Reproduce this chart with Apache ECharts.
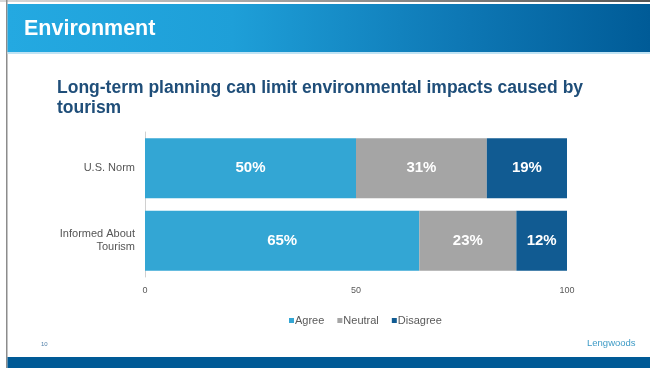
<!DOCTYPE html>
<html>
<head>
<meta charset="utf-8">
<style>
  html, body { margin: 0; padding: 0; background: #ffffff; }
  #chart { width: 650px; height: 368px; }
</style>
<script src="https://cdn.jsdelivr.net/npm/echarts@6/dist/echarts.min.js"></script>
</head>
<body>
<div id="chart"></div>
<script>
// Survey groups, top to bottom
const categories = ['U.S. Norm', 'Informed About\nTourism'];
// Share of respondents (%) per answer
const agree = [50, 65];
const neutral = [31, 23];
const disagree = [19, 12];
const xTicks = [0, 50, 100];

const chart = echarts.init(document.getElementById('chart'), null, { renderer: 'canvas' });

const labelStyle = {
  show: true,
  position: 'inside',
  color: '#ffffff',
  fontFamily: 'Liberation Sans, Arial, sans-serif',
  fontWeight: 'bold',
  fontSize: 15,
  formatter: p => p.value + '%'
};

function barSeries(name, data, color) {
  return {
    name: name,
    type: 'bar',
    stack: 'total',
    data: data,
    barCategoryGap: '17%',
    itemStyle: { color: color },
    label: labelStyle,
    emphasis: { disabled: true }
  };
}

chart.setOption({
  animation: false,
  backgroundColor: '#ffffff',
  textStyle: { fontFamily: 'Liberation Sans, Arial, sans-serif' },
  graphic: [
    // slide frame
    {
      type: 'rect', shape: { x: 0, y: 0, width: 650, height: 2 }, silent: true,
      style: {
        fill: new echarts.graphic.LinearGradient(0, 0, 1, 0, [
          { offset: 0, color: '#d8d8d8' },
          { offset: 1, color: '#555555' }
        ])
      }
    },
    { type: 'rect', shape: { x: 6, y: 0, width: 1.5, height: 368 }, style: { fill: '#8c8c8c' }, silent: true },
    // header band
    {
      type: 'rect', shape: { x: 7.5, y: 4, width: 643, height: 48 }, silent: true,
      style: {
        fill: new echarts.graphic.LinearGradient(0, 0, 1, 0, [
          { offset: 0, color: '#24A9E1' },
          { offset: 0.35, color: '#1E9FD8' },
          { offset: 0.7, color: '#0E78B5' },
          { offset: 1, color: '#005B97' }
        ])
      }
    },
    { type: 'rect', shape: { x: 7.5, y: 52, width: 643, height: 2 }, style: { fill: '#BFE3F4' }, silent: true },
    {
      type: 'text', left: 24, top: 18, silent: true,
      style: { text: 'Environment', fill: '#ffffff', font: 'bold 21.5px Liberation Sans, Arial, sans-serif' }
    },
    // chart title
    {
      type: 'text', left: 57, top: 78, silent: true,
      style: {
        text: 'Long-term planning can limit environmental impacts caused by\ntourism',
        fill: '#1F4E79', font: 'bold 17.5px Liberation Sans, Arial, sans-serif', lineHeight: 20
      }
    },
    // footer
    {
      type: 'text', left: 41, top: 341, silent: true,
      style: { text: '10', fill: '#4F7FA8', font: '6px Liberation Sans, Arial, sans-serif' }
    },
    {
      type: 'text', left: 587, top: 338, silent: true,
      style: { text: 'Lengwoods', fill: '#3E9BC6', font: '9.5px Liberation Sans, Arial, sans-serif' }
    },
    { type: 'rect', shape: { x: 7.5, y: 357, width: 643, height: 11 }, style: { fill: '#005A96' }, silent: true }
  ],
  legend: {
    top: 310,
    left: 284,
    itemWidth: 5,
    itemHeight: 5,
    itemGap: 13,
    icon: 'rect',
    textStyle: { color: '#595959', fontSize: 11, padding: [0, 0, 0, -4] },
    data: ['Agree', 'Neutral', 'Disagree']
  },
  grid: { left: 145, right: 83, top: 132, bottom: 91, containLabel: false },
  xAxis: {
    type: 'value',
    min: xTicks[0],
    max: xTicks[xTicks.length - 1],
    interval: 50,
    axisLine: { show: false },
    axisTick: { show: false },
    splitLine: { show: false },
    axisLabel: { color: '#595959', fontSize: 9, margin: 9 }
  },
  yAxis: {
    type: 'category',
    inverse: true,
    data: categories,
    axisLine: { show: true, lineStyle: { color: '#D0D0D0', width: 1 } },
    axisTick: { show: false },
    axisLabel: { color: '#555555', fontSize: 11, margin: 10, lineHeight: 13, align: 'right' }
  },
  series: [
    barSeries('Agree', agree, '#33A6D4'),
    barSeries('Neutral', neutral, '#A5A5A5'),
    barSeries('Disagree', disagree, '#115B92')
  ]
});
</script>
</body>
</html>
